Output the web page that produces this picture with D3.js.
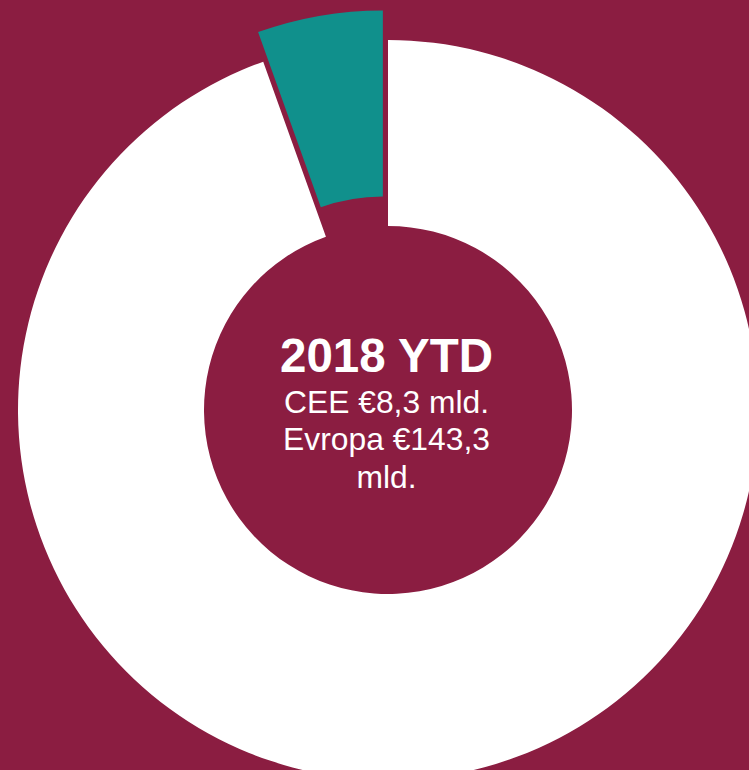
<!DOCTYPE html>
<html>
<head>
<meta charset="utf-8">
<script src="https://cdn.jsdelivr.net/npm/d3@7"></script>
<style>
  html, body { margin: 0; padding: 0; background: #8b1d41; }
  svg { display: block; }
</style>
</head>
<body>
<svg id="chart" width="749" height="770"></svg>
<script>
// Share of investment volume, € billions
const categories = ["Evropa", "CEE"];
const values = [143.3, 8.3];
const colors = ["#ffffff", "#10908c"];
const exploded = [false, true];

const titleText = "2018 YTD";
const subLines = ["CEE €8,3 mld.", "Evropa €143,3", "mld."];

const width = 749, height = 770;
const cx = 388, cy = 410;
const outerR = 370, innerR = 184;
const explodeDist = 30;

const svg = d3.select("#chart");
svg.append("rect").attr("width", width).attr("height", height).attr("fill", "#8b1d41");

const pie = d3.pie().sort(null).value(d => d.value);
const arc = d3.arc().innerRadius(innerR).outerRadius(outerR);

const data = categories.map((c, i) => ({ name: c, value: values[i], color: colors[i], explode: exploded[i] }));

const g = svg.append("g").attr("transform", `translate(${cx},${cy})`);

g.selectAll("path")
  .data(pie(data))
  .join("path")
  .attr("d", arc)
  .attr("fill", d => d.data.color)
  .attr("transform", d => {
    if (!d.data.explode) return null;
    const mid = (d.startAngle + d.endAngle) / 2;
    const dx = Math.sin(mid) * explodeDist;
    const dy = -Math.cos(mid) * explodeDist;
    return `translate(${dx},${dy})`;
  });

// Centre caption
const font = "Arial, 'Liberation Sans', Helvetica, sans-serif";
const textX = -1.5;
g.append("text")
  .attr("x", textX).attr("y", 372 - cy)
  .attr("text-anchor", "middle")
  .attr("fill", "#ffffff")
  .style("font-family", font)
  .style("font-weight", "bold")
  .style("font-size", "47.5px")
  .text(titleText);

const baselines = [413, 450, 488];
subLines.forEach((t, i) => {
  g.append("text")
    .attr("x", textX).attr("y", baselines[i] - cy)
    .attr("text-anchor", "middle")
    .attr("fill", "#ffffff")
    .style("font-family", font)
    .style("font-size", "31.8px")
    .text(t);
});
</script>
</body>
</html>
